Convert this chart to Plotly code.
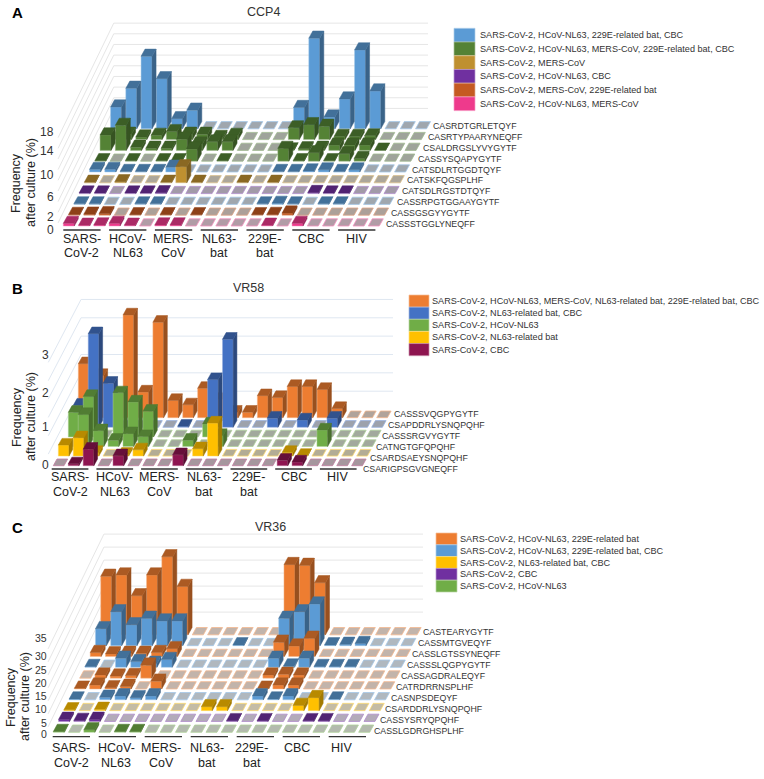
import plotly.graph_objects as go

groups = ["SARS-\nCoV-2", "HCoV-\nNL63", "MERS-\nCoV", "NL63-\nbat", "229E-\nbat", "CBC", "HIV"]

# ---------- panel A (rows listed front to back)
ccp4_rows = ["CASSSTGGLYNEQFF", "CASSGSGYYGYTF", "CASSRPGTGGAAYGYTF", "CATSDLRGSTDTQYF", "CATSKFQGSPLHF",
             "CATSDLRTGGDTQYF", "CASSYSQAPYGYTF", "CSALDRGSLYVYGYTF", "CASRTYPAARYNEQFF", "CASRDTGRLETQYF"]
ccp4_series = [5, 4, 0, 3, 2, 0, 1, 1, 1, 0]
ccp4_values = [
    [.5, .15, .2, .5, .15, 0, .2, .2, 0, 0, 0, 0, 0, .15, 0, .5, 0, 0, 0, 0, 0],
    [.15, .2, .3, 0, .1, 0, .1, 0, .1, 0, 0, 0, .1, .15, .4, 0, 0, 0, 0, 0, 0],
    [.1, .1, 0, 0, .1, .1, 0, 0, 0, 0, 0, 0, .1, .2, .1, 0, .1, .1, 0, 0, 0],
    [.1, .1, 0, .1, .1, .15, 0, 0, 0, 0, 0, 0, 0, 0, 0, .2, .1, .1, 0, 0, 0],
    [.1, 0, .2, 0, 0, .1, 3, .1, 0, 0, .1, 0, .1, 0, 0, 0, 0, 0, 0, 0, 0],
    [.5, .5, .1, .1, .1, .9, 0, 0, 0, 0, 0, 0, .1, .1, .2, .4, .1, .4, 0, 0, 0],
    [.1, 0, .1, 0, .1, .1, 2.3, 0, .1, 0, 0, 0, 2.4, .1, 1.6, .1, 1.4, .5, 0, 0, 0],
    [2.9, 4.7, .6, .4, .4, 2.1, 1.2, 1.6, 1.6, 0, 0, 0, .1, .3, .4, 1, 1, 1, .05, 0, 0],
    [.1, 1, .5, .8, 1.5, 1, 1, .4, .8, 0, 0, 0, 2.2, 2.8, 2.5, .6, .6, .7, 0, 0, 0],
    [4.1, 7.6, 13.6, 9.4, 1.9, 3.5, 0, 0, 0, 0, 0, 0, 4, 17, 2.2, 5.6, 14.8, 7.1, 0, 0, 0],
]
ccp4_legend = ["SARS-CoV-2, HCoV-NL63, 229E-related bat, CBC",
               "SARS-CoV-2, HCoV-NL63, MERS-CoV, 229E-related bat, CBC",
               "SARS-CoV-2, MERS-CoV", "SARS-CoV-2, HCoV-NL63, CBC",
               "SARS-CoV-2, MERS-CoV, 229E-related bat", "SARS-CoV-2, HCoV-NL63, MERS-CoV"]
ccp4_colors = ["#5b9bd5", "#548235", "#bf9030", "#7030a0", "#c55a22", "#ee3a8c"]
ccp4_ticks = [0, 2, 6, 10, 14, 18]

# ---------- panel B
vr58_rows = ["CSARIGPSGVGNEQFF", "CSARDSAEYSNQPQHF", "CATNGTGFQPQHF", "CASSSRGVYGYTF",
             "CSAPDDRLYSNQPQHF", "CASSSVQGPYGYTF"]
vr58_series = [4, 3, 2, 2, 1, 0]
vr58_values = [
    [0, .05, .45, 0, .27, 0, 0, 0, .3, 0, 0, 0, 0, 0, 0, .15, .1, 0, 0, 0, 0],
    [.3, .5, .1, 0, .05, .17, 0, 0, 0, .2, .9, 0, 0, 0, 0, .1, .02, 0, 0, 0, 0],
    [0, .87, .43, .17, .35, .27, 0, 0, .17, 0, .3, 0, 0, 0, 0, 0, 0, .45, 0, 0, 0],
    [.67, 1.1, 0, 1.2, .95, .7, 0, 0, 0, .35, 0, 0, 0, 0, 0, 0, 0, 0, 0, 0, 0],
    [.6, 2.55, 1.2, 0, 0, 0, 0, .03, 0, 1.3, 2.4, 0, 0, .25, 0, .2, 0, .25, 0, 0, 0],
    [1.47, 1.15, .4, 2.8, .7, 2.6, .47, .35, .8, .5, .15, .15, .6, .55, .85, .85, .77, .25, 0, 0, 0],
]
vr58_legend = ["SARS-CoV-2, HCoV-NL63, MERS-CoV, NL63-related bat, 229E-related bat, CBC",
               "SARS-CoV-2, NL63-related bat, CBC", "SARS-CoV-2, HCoV-NL63",
               "SARS-CoV-2, NL63-related bat", "SARS-CoV-2, CBC"]
vr58_colors = ["#ed7d31", "#4472c4", "#70ad47", "#ffc000", "#8e1550"]
vr58_ticks = [0, 1, 2, 3]

# ---------- panel C
vr36_rows = ["CASSLGDRGHSPLHF", "CASSYSRYQPQHF", "CSARDDRLYSNQPQHF", "CASNPSDEQYF", "CATRDRRNSPLHF",
             "CASSAGDRALEQYF", "CASSSLQGPYGYTF", "CASSLGTSSYNEQFF", "CASSMTGVEQYF", "CASTEARYGYTF"]
vr36_series = [4, 3, 2, 1, 0, 0, 1, 0, 1, 0]
vr36_values = [
    [.3, 0, 1, 0, .3, .3, 0, 0, 0, 0, 0, 0, 0, 0, 0, 0, 0, 0, 0, 0, 0],
    [.8, .4, .8, 0, 0, 0, 0, 0, 0, 0, 0, .3, 0, .3, 0, 0, .3, .3, 0, 0, 0],
    [.3, 0, .5, 0, 0, 0, 0, 0, 0, 1.5, 1.5, 0, 0, 0, 0, 2, 5, 0, 0, 0, 0],
    [.3, 0, 1, 1.5, .8, 1.5, 0, 0, 0, 0, 0, 0, 1.5, .3, 1.5, 0, 0, .3, 0, 0, 0],
    [.3, 1.5, .5, 1, 0, 3, 0, 0, 0, 0, 0, 0, .3, 1.5, 1.5, 0, 0, 0, 0, 0, 0],
    [0, 1.2, .8, 1, 5, 0, 0, 0, 0, 0, 0, 0, 1.2, 1.5, 1.2, 0, 0, 0, 0, 0, 0],
    [.3, 0, 3.5, 2.2, 1.5, 3, 0, 0, 0, 0, 0, 0, 3.5, .5, 3.5, .3, .3, .3, 0, 0, 0],
    [1.5, 1, 1.2, 1.2, 1.5, 3, 0, 0, 0, 0, 0, 0, 5.5, 4, 7, 0, 0, 0, 0, 0, 0],
    [6.5, 13, 8, 10.5, 9.5, 9.5, 0, 0, 0, .3, 0, 0, 10.5, 13, 16, .3, .5, .8, 0, 0, 0],
    [22.5, 23, 15, 23, 30, 18.6, 0, 0, 0, 0, 0, 0, 27, 26.7, 20, 0, 0, 0, 0, 0, 0],
]
vr36_legend = ["SARS-CoV-2, HCoV-NL63, 229E-related bat", "SARS-CoV-2, HCoV-NL63, 229E-related bat, CBC",
               "SARS-CoV-2, NL63-related bat, CBC", "SARS-CoV-2, CBC", "SARS-CoV-2, HCoV-NL63"]
vr36_colors = ["#ed7d31", "#5b9bd5", "#ffc000", "#7030a0", "#70ad47"]
vr36_ticks = [0, 5, 10, 15, 20, 25, 30, 35]

FONT = "Liberation Sans, Arial, sans-serif"
panels = [
    dict(letter="A", title="CCP4", title_xy=(263, 12), letter_xy=(17, 12),
         rows=ccp4_rows, series=ccp4_series, values=ccp4_values, legend=ccp4_legend, colors=ccp4_colors,
         ticks=ccp4_ticks, tick_y=[230, 216.7, 197, 175, 150.7, 131.7], tick_x=55, tick_fs=12,
         x0=63.3, y0=226, pitch=15.25, rdx=5.25, rdy=10.8, bw=11, ddx=4, ddy=7.2, hz=5.33,
         grid=2, gmax=18, wall=9.9, wall_end=428, grid_col="#e6e6e6", zero="#a9a9a9",
         line0=63.3, line_step=45.8, line_len=37.3, line_y=230, lab0=81.7, lab_step=45.8, lab_y=(239, 253),
         ylab_x=(16, 31), ylab_y=183,
         row_lab=(385, 224, 5.27, 10.9),
         leg_x=(454, 475), leg_y=28.3, leg_h=13.72, leg_text=479, leg_fs=9.1),
    dict(letter="B", title="VR58", title_xy=(248, 288), letter_xy=(17, 288),
         rows=vr58_rows, series=vr58_series, values=vr58_values, legend=vr58_legend, colors=vr58_colors,
         ticks=vr58_ticks, tick_y=[465, 427, 392.7, 355], tick_x=50, tick_fs=12,
         x0=53.3, y0=465.7, pitch=14.92, rdx=5, rdy=9.6, bw=10.7, ddx=3.7, ddy=6.7, hz=36.7,
         grid=.5, gmax=3, wall=5.85, wall_end=393, grid_col="#dfe7f1", zero="#a9a9a9",
         line0=51.7, line_step=44.7, line_len=36.7, line_y=469, lab0=70, lab_step=44.7, lab_y=(476.7, 491.7),
         ylab_x=(17, 31), ylab_y=417,
         row_lab=(362.3, 469, 6.2, 10.93),
         leg_x=(409, 429), leg_y=295, leg_h=12.14, leg_text=430.5, leg_fs=9.1),
    dict(letter="C", title="VR36", title_xy=(270, 527), letter_xy=(17, 527),
         rows=vr36_rows, series=vr36_series, values=vr36_values, legend=vr36_legend, colors=vr36_colors,
         ticks=vr36_ticks, tick_y=[734, 723, 709, 695.7, 683, 670, 655.7, 638], tick_x=47.5, tick_fs=10.5,
         x0=53.3, y0=732.3, pitch=15.27, rdx=5.27, rdy=10.83, bw=11, ddx=4, ddy=7.3, hz=2.6,
         grid=5, gmax=35, wall=9.9, wall_end=423, grid_col="#e6e6e6", zero="#bcbcbc",
         line0=52.7, line_step=46, line_len=37.3, line_y=736.7, lab0=71, lab_step=45.2, lab_y=(748, 763),
         ylab_x=(11, 25), ylab_y=697,
         row_lab=(373.3, 730.7, 5.43, 10.97),
         leg_x=(436, 457), leg_y=533, leg_h=11.8, leg_text=459, leg_fs=9.1),
]


def mix(hex_col, other, t):
    a = [int(hex_col[i:i + 2], 16) for i in (1, 3, 5)]
    b = [int(other[i:i + 2], 16) for i in (1, 3, 5)]
    return "#%02x%02x%02x" % tuple(round(p * (1 - t) + q * t) for p, q in zip(a, b))


def poly(pts, xs, ys):
    for x, y in pts + [pts[0]]:
        xs.append(x)
        ys.append(y)
    xs.append(None)
    ys.append(None)


def face(fig, xs, ys, fill, line, width=0.5):
    if xs:
        fig.add_trace(go.Scatter(x=xs, y=ys, mode="lines", fill="toself", fillcolor=fill,
                                 line=dict(color=line, width=width), hoverinfo="skip",
                                 showlegend=False, connectgaps=False))


fig = go.Figure()
ann = []


def text(x, y, s, size, anchor="center", color="#222222", angle=0, bold=False):
    ann.append(dict(x=x, y=y, xref="x", yref="y", text=f"<b>{s}</b>" if bold else s, showarrow=False,
                    xanchor=anchor, yanchor="middle", textangle=angle, borderpad=0,
                    font=dict(family=FONT, size=size, color=color)))


for p in panels:
    px = lambda c, r: p["x0"] + c * p["pitch"] + r * p["rdx"]
    py = lambda r, z: p["y0"] - r * p["rdy"] - z * p["hz"]
    # walls
    gx, gy = [], []
    z = p["grid"]
    while z <= p["gmax"] + 1e-6:
        gx += [px(-.1, -.7), px(-.1, p["wall"]), p["wall_end"], None]
        gy += [py(-.7, z), py(p["wall"], z), py(p["wall"], z), None]
        z += p["grid"]
    fig.add_trace(go.Scatter(x=gx, y=gy, mode="lines", line=dict(color=p["grid_col"], width=1),
                             hoverinfo="skip", showlegend=False))
    # bars, back row first so that nearer rows paint over farther ones
    for r in range(len(p["rows"]) - 1, -1, -1):
        col = p["colors"][p["series"][r]]
        top_col = mix(col, "#000000", .28)
        side_col = mix(col, "#000000", .36)
        edge = mix(col, "#ffffff", .45)
        zero_fill = mix(p["zero"], col, .12)
        zx, zy, fx, fy, sx, sy, tx, ty = [], [], [], [], [], [], [], []
        for c, v in enumerate(p["values"][r]):
            x, y = px(c, r), py(r, 0)
            up = v * p["hz"]
            b, dx, dy = p["bw"], p["ddx"], p["ddy"]
            if v == 0:
                poly([(x, y), (x + b, y), (x + b + dx, y - dy), (x + dx, y - dy)], zx, zy)
            else:
                poly([(x, y), (x + b, y), (x + b, y - up), (x, y - up)], fx, fy)
                poly([(x + b, y), (x + b + dx, y - dy), (x + b + dx, y - dy - up), (x + b, y - up)], sx, sy)
                poly([(x, y - up), (x + b, y - up), (x + b + dx, y - dy - up), (x + dx, y - dy - up)], tx, ty)
        face(fig, zx, zy, zero_fill, edge, .8)
        face(fig, fx, fy, col, edge, .5)
        face(fig, sx, sy, side_col, side_col, .5)
        face(fig, tx, ty, top_col, top_col, .5)
    # group rules and labels
    for k, g in enumerate(groups):
        s = p["line0"] + k * p["line_step"]
        fig.add_trace(go.Scatter(x=[s, s + p["line_len"]], y=[p["line_y"]] * 2, mode="lines",
                                 line=dict(color="#333333", width=1.3), hoverinfo="skip", showlegend=False))
        for j, part in enumerate(g.split("\n")):
            text(p["lab0"] + k * p["lab_step"], p["lab_y"][j], part, 12.5)
    # row labels
    lx, ly, ldx, ldy = p["row_lab"]
    for r, name in enumerate(p["rows"]):
        text(lx + r * ldx, ly - r * ldy, name, 8.8, anchor="left", color="#333333")
    # value ticks
    for t, y in zip(p["ticks"], p["tick_y"]):
        text(p["tick_x"], y, str(t), p["tick_fs"], anchor="right", color="#333333")
    text(p["ylab_x"][0], p["ylab_y"], "Frequency", 12.5, angle=-90)
    text(p["ylab_x"][1], p["ylab_y"], "after culture (%)", 12.5, angle=-90)
    text(*p["title_xy"], p["title"], 12.5, color="#333333")
    text(*p["letter_xy"], p["letter"], 15, bold=True, color="#000000")
    # legend
    for i, (name, c) in enumerate(zip(p["legend"], p["colors"])):
        y = p["leg_y"] + i * p["leg_h"]
        lx0, lx1 = p["leg_x"]
        fig.add_trace(go.Scatter(x=[lx0, lx1, lx1, lx0, lx0], y=[y, y, y + p["leg_h"], y + p["leg_h"], y],
                                 mode="lines", fill="toself", fillcolor=c,
                                 line=dict(color=mix(c, "#ffffff", .5), width=.7),
                                 hoverinfo="skip", showlegend=False))
        text(p["leg_text"], y + p["leg_h"] / 2, name, p["leg_fs"], anchor="left", color="#333333")

fig.update_layout(
    width=764, height=779, margin=dict(l=0, r=0, t=0, b=0), paper_bgcolor="white", plot_bgcolor="white",
    xaxis=dict(range=[0, 764], visible=False, fixedrange=True),
    yaxis=dict(range=[779, 0], visible=False, fixedrange=True),
    annotations=ann, showlegend=False,
)
fig.write_html("out.html", post_script="document.body.style.margin='0';document.body.style.overflow='hidden';",
               config=dict(displayModeBar=False))
